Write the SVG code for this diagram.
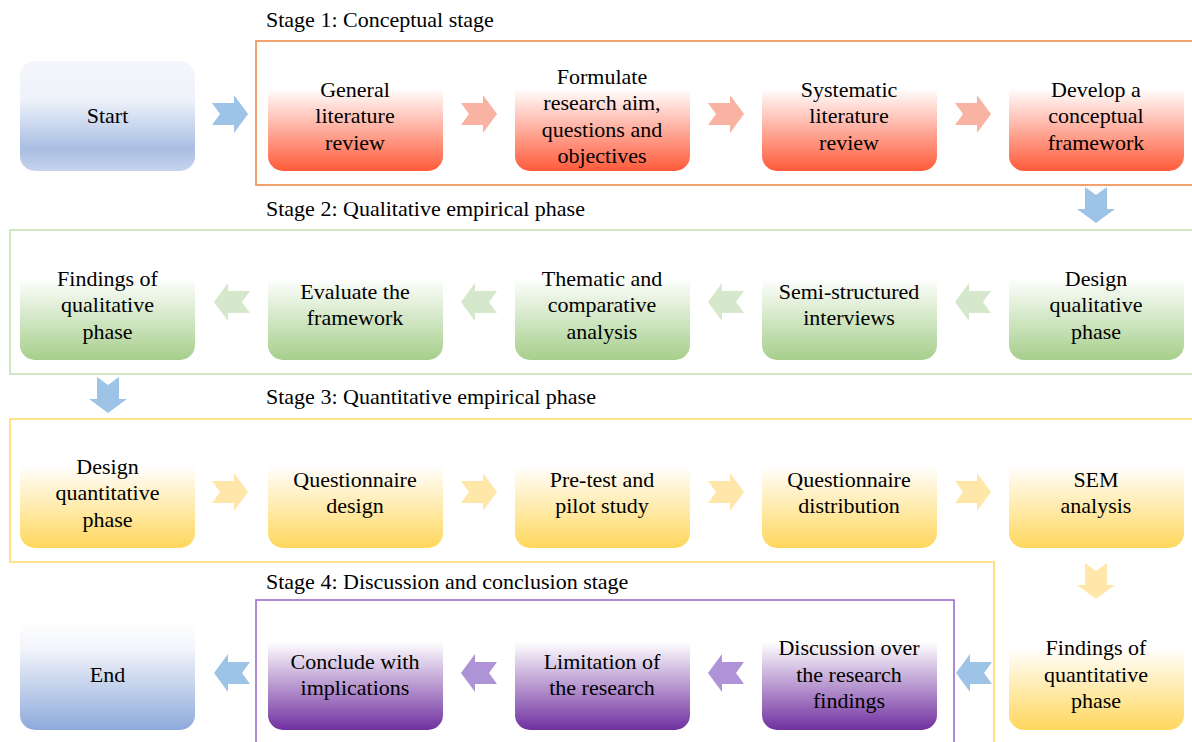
<svg xmlns="http://www.w3.org/2000/svg" width="1192" height="742" viewBox="0 0 1192 742">
<style>
text{font-family:'Liberation Serif','Times New Roman',serif;font-size:22px;fill:#000;}
.t{text-anchor:middle;}
.frame{fill:none;stroke-width:1.6;}
.ab{fill:#9dc3e6;}
.ar{fill:#f9b3a3;}
.ag{fill:#d5e8cb;}
.ay{fill:#fee7a9;}
.ap{fill:#ae94d6;}
</style>
<defs>
<path id="arr" d="M-18,-11 L4,-11 L4,-19 L18,0 L4,19 L4,11 L-18,11 L-10,0 Z"/>
<linearGradient id="gStart" x1="0" y1="0" x2="0" y2="1">
<stop offset="0" stop-color="#f5f6fb"/><stop offset="0.35" stop-color="#eef2fa"/><stop offset="0.8" stop-color="#a9bee3"/><stop offset="1" stop-color="#c6d4ee"/>
</linearGradient>
<linearGradient id="gEnd" x1="0" y1="0" x2="0" y2="1">
<stop offset="0" stop-color="#ffffff"/><stop offset="0.25" stop-color="#f3f5fb"/><stop offset="1" stop-color="#8eaadb"/>
</linearGradient>
<linearGradient id="gRed" x1="0" y1="0" x2="0" y2="1">
<stop offset="0.25" stop-color="#ffffff"/><stop offset="1" stop-color="#ff5a3a"/>
</linearGradient>
<linearGradient id="gGreen" x1="0" y1="0" x2="0" y2="1">
<stop offset="0.25" stop-color="#ffffff"/><stop offset="1" stop-color="#a6cf8b"/>
</linearGradient>
<linearGradient id="gYellow" x1="0" y1="0" x2="0" y2="1">
<stop offset="0.25" stop-color="#ffffff"/><stop offset="1" stop-color="#ffd75c"/>
</linearGradient>
<linearGradient id="gPurple" x1="0" y1="0" x2="0" y2="1">
<stop offset="0.2" stop-color="#ffffff"/><stop offset="1" stop-color="#7030a0"/>
</linearGradient>
</defs>
<rect width="1192" height="742" fill="#ffffff"/>

<g id="stages">
<rect class="frame" x="256" y="41" width="960" height="144" stroke="#ef8a4c"/>
<text x="266" y="27">Stage 1: Conceptual stage</text>
<rect class="frame" x="10" y="230" width="1206" height="144" stroke="#c6e0b5"/>
<text x="266" y="216">Stage 2: Qualitative empirical phase</text>
<path class="frame" d="M1216,419 H10 V562 H994 V760" stroke="#ffd966"/>
<text x="266" y="404">Stage 3: Quantitative empirical phase</text>
<rect class="frame" x="256" y="600" width="698" height="160" stroke="#9c6ccf"/>
<text x="266" y="589">Stage 4: Discussion and conclusion stage</text>
</g>

<g id="start"><rect x="20" y="61" width="175" height="110" rx="15" fill="url(#gStart)"/><text class="t" x="107.5" y="123">Start</text></g>
<g id="n1"><rect x="268" y="61" width="175" height="110" rx="15" fill="url(#gRed)"/><text class="t" x="355" y="97">General</text><text class="t" x="355" y="123">literature</text><text class="t" x="355" y="150">review</text></g>
<g id="n2"><rect x="515" y="61" width="175" height="110" rx="15" fill="url(#gRed)"/><text class="t" x="602" y="84">Formulate</text><text class="t" x="602" y="110">research aim,</text><text class="t" x="602" y="137">questions and</text><text class="t" x="602" y="163">objectives</text></g>
<g id="n3"><rect x="762" y="61" width="175" height="110" rx="15" fill="url(#gRed)"/><text class="t" x="849" y="97">Systematic</text><text class="t" x="849" y="123">literature</text><text class="t" x="849" y="150">review</text></g>
<g id="n4"><rect x="1009" y="61" width="175" height="110" rx="15" fill="url(#gRed)"/><text class="t" x="1096" y="97">Develop a</text><text class="t" x="1096" y="123">conceptual</text><text class="t" x="1096" y="150">framework</text></g>

<g id="n5"><rect x="1009" y="250" width="175" height="110" rx="15" fill="url(#gGreen)"/><text class="t" x="1096" y="286">Design</text><text class="t" x="1096" y="312">qualitative</text><text class="t" x="1096" y="339">phase</text></g>
<g id="n6"><rect x="762" y="250" width="175" height="110" rx="15" fill="url(#gGreen)"/><text class="t" x="849" y="299">Semi-structured</text><text class="t" x="849" y="325">interviews</text></g>
<g id="n7"><rect x="515" y="250" width="175" height="110" rx="15" fill="url(#gGreen)"/><text class="t" x="602" y="286">Thematic and</text><text class="t" x="602" y="312">comparative</text><text class="t" x="602" y="339">analysis</text></g>
<g id="n8"><rect x="268" y="250" width="175" height="110" rx="15" fill="url(#gGreen)"/><text class="t" x="355" y="299">Evaluate the</text><text class="t" x="355" y="325">framework</text></g>
<g id="n9"><rect x="20" y="250" width="175" height="110" rx="15" fill="url(#gGreen)"/><text class="t" x="107.5" y="286">Findings of</text><text class="t" x="107.5" y="312">qualitative</text><text class="t" x="107.5" y="339">phase</text></g>

<g id="n10"><rect x="20" y="438" width="175" height="110" rx="15" fill="url(#gYellow)"/><text class="t" x="107.5" y="474">Design</text><text class="t" x="107.5" y="500">quantitative</text><text class="t" x="107.5" y="527">phase</text></g>
<g id="n11"><rect x="268" y="438" width="175" height="110" rx="15" fill="url(#gYellow)"/><text class="t" x="355" y="487">Questionnaire</text><text class="t" x="355" y="513">design</text></g>
<g id="n12"><rect x="515" y="438" width="175" height="110" rx="15" fill="url(#gYellow)"/><text class="t" x="602" y="487">Pre-test and</text><text class="t" x="602" y="513">pilot study</text></g>
<g id="n13"><rect x="762" y="438" width="175" height="110" rx="15" fill="url(#gYellow)"/><text class="t" x="849" y="487">Questionnaire</text><text class="t" x="849" y="513">distribution</text></g>
<g id="n14"><rect x="1009" y="438" width="175" height="110" rx="15" fill="url(#gYellow)"/><text class="t" x="1096" y="487">SEM</text><text class="t" x="1096" y="513">analysis</text></g>

<g id="n15"><rect x="1009" y="620" width="175" height="110" rx="15" fill="url(#gYellow)"/><text class="t" x="1096" y="655">Findings of</text><text class="t" x="1096" y="682">quantitative</text><text class="t" x="1096" y="708">phase</text></g>
<g id="n16"><rect x="762" y="620" width="175" height="110" rx="15" fill="url(#gPurple)"/><text class="t" x="849" y="655">Discussion over</text><text class="t" x="849" y="682">the research</text><text class="t" x="849" y="708">findings</text></g>
<g id="n17"><rect x="515" y="620" width="175" height="110" rx="15" fill="url(#gPurple)"/><text class="t" x="602" y="669">Limitation of</text><text class="t" x="602" y="695">the research</text></g>
<g id="n18"><rect x="268" y="620" width="175" height="110" rx="15" fill="url(#gPurple)"/><text class="t" x="355" y="669">Conclude with</text><text class="t" x="355" y="695">implications</text></g>
<g id="end"><rect x="20" y="620" width="175" height="110" rx="15" fill="url(#gEnd)"/><text class="t" x="107.5" y="682">End</text></g>

<g id="connectors">
<use href="#arr" class="ab" transform="translate(230,114)"/>
<use href="#arr" class="ar" transform="translate(479,114)"/>
<use href="#arr" class="ar" transform="translate(726,114)"/>
<use href="#arr" class="ar" transform="translate(973,114)"/>
<use href="#arr" class="ab" transform="translate(1096,205) rotate(90)"/>
<use href="#arr" class="ag" transform="translate(973,302) rotate(180)"/>
<use href="#arr" class="ag" transform="translate(726,302) rotate(180)"/>
<use href="#arr" class="ag" transform="translate(479,302) rotate(180)"/>
<use href="#arr" class="ag" transform="translate(232,302) rotate(180)"/>
<use href="#arr" class="ab" transform="translate(108,395) rotate(90)"/>
<use href="#arr" class="ay" transform="translate(230,492)"/>
<use href="#arr" class="ay" transform="translate(479,492)"/>
<use href="#arr" class="ay" transform="translate(726,492)"/>
<use href="#arr" class="ay" transform="translate(973,492)"/>
<use href="#arr" class="ay" transform="translate(1096,581) rotate(90)"/>
<use href="#arr" class="ab" transform="translate(974,673) rotate(180)"/>
<use href="#arr" class="ap" transform="translate(726,673) rotate(180)"/>
<use href="#arr" class="ap" transform="translate(479,673) rotate(180)"/>
<use href="#arr" class="ab" transform="translate(232,673) rotate(180)"/>
</g>
</svg>
